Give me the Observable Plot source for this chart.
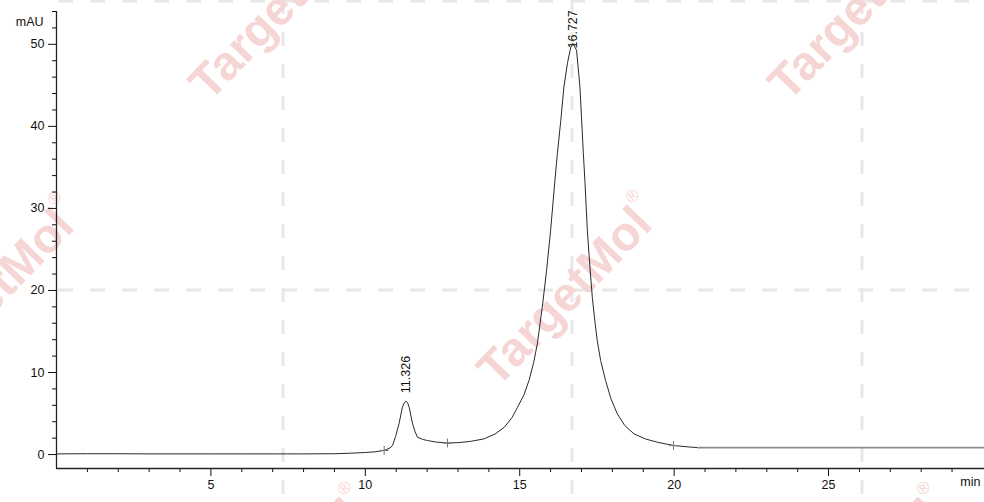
<!DOCTYPE html>
<html><head><meta charset="utf-8">
<script src="https://cdn.jsdelivr.net/npm/d3@7"></script>
<script src="https://cdn.jsdelivr.net/npm/@observablehq/plot@0.6"></script>
<style>
body{margin:0;background:#fff;}
#wrap{position:relative;width:984px;height:502px;overflow:hidden;background:#fff;}
#wm{position:absolute;left:0;top:0;}
#chart{position:absolute;left:0;top:0;}
</style></head><body>
<div id="wrap"><svg id="wm" width="984" height="502"></svg><div id="chart"></div></div>
<script>
// Chromatogram samples (time in min, signal in mAU)
const times = [0, 1, 2, 3, 4, 5, 6, 7, 8, 9, 9.5, 10, 10.3, 10.61, 10.8, 10.88, 10.98, 11.09, 11.2, 11.27, 11.326, 11.37, 11.42, 11.53, 11.61, 11.69, 11.85, 12.01, 12.3, 12.66, 13.0, 13.4, 13.84, 14.2, 14.5, 14.75, 14.93, 15.14, 15.3, 15.45, 15.57, 15.73, 15.87, 16.0, 16.14, 16.22, 16.33, 16.43, 16.55, 16.65, 16.727, 16.84, 16.95, 17.06, 17.11, 17.19, 17.27, 17.35, 17.43, 17.51, 17.62, 17.78, 17.95, 18.16, 18.4, 18.7, 19.08, 19.46, 19.98, 20.53, 20.76, 25, 30.05];
const signal = [0.08, 0.1, 0.1, 0.08, 0.08, 0.08, 0.08, 0.08, 0.08, 0.1, 0.16, 0.25, 0.33, 0.5, 0.8, 1.1, 2.2, 3.74, 5.77, 6.35, 6.5, 6.3, 5.77, 3.74, 2.8, 2.11, 1.85, 1.71, 1.52, 1.4, 1.45, 1.6, 1.91, 2.5, 3.33, 4.5, 5.77, 7.3, 9.02, 11.2, 13.5, 17.96, 22.44, 27.32, 33.41, 36.71, 40.73, 44.79, 47.8, 49.6, 50.1, 49.27, 44.79, 36.71, 33.41, 27.32, 23.0, 19.18, 16.34, 13.9, 11.46, 9.02, 6.83, 4.96, 3.54, 2.52, 1.89, 1.5, 1.1, 0.91, 0.85, 0.85, 0.85];
const tailStart = 20.76;

// Peaks
const peakTimes = [11.326, 16.727];
const peakHeights = [6.5, 50.1];
const peakLabels = ["11.326", "16.727"];

// Integration markers
const markerTimes = [10.61, 12.66, 19.98];
const markerValues = [0.5, 1.4, 1.1];

// Axis ticks
const xDomain = [0, 30.05];
const yDomain = [-1.7, 54];
const xMajor = [5, 10, 15, 20, 25];
const xMinor = [1, 2, 3, 4, 6, 7, 8, 9, 11, 12, 13, 14, 16, 17, 18, 19, 21, 22, 23, 24, 26, 27, 28, 29];
const yMajor = [0, 10, 20, 30, 40, 50];
const yMinor = [2, 4, 6, 8, 12, 14, 16, 18, 22, 24, 26, 28, 32, 34, 36, 38, 42, 44, 46, 48, 52, 54];
const xUnit = "min";
const yUnit = "mAU";

// Watermark (decorative background, pixel positioned)
const wm = d3.select("#wm");
const dashColor = "#e8e8e8";
[283, 572, 862].forEach(x => wm.append("line").attr("x1", x).attr("x2", x).attr("y1", 0).attr("y2", 502)
  .attr("stroke", dashColor).attr("stroke-width", 3).attr("stroke-dasharray", "14,18"));
[1, 290].forEach(y => wm.append("line").attr("x1", 58).attr("x2", 984).attr("y1", y).attr("y2", y)
  .attr("stroke", dashColor).attr("stroke-width", 3).attr("stroke-dasharray", "15,17"));
const wmCenters = [[280, 5], [859, 5], [-10, 293], [568, 291], [280, 583], [859, 583]];
wmCenters.forEach(([cx, cy]) => {
  const g = wm.append("g").attr("transform", `translate(${cx},${cy}) rotate(-46)`);
  const t = g.append("text").attr("text-anchor", "middle").attr("dominant-baseline", "central")
    .attr("font-family", "Liberation Sans, Arial, sans-serif").attr("font-weight", "bold")
    .attr("font-size", 48).attr("fill", "#f6d5d5");
  t.append("tspan").text("TargetMol");
  t.append("tspan").attr("font-size", 17).attr("font-weight", "normal").attr("dy", -20).text("®");
});

const data = times.map((t, i) => ({t, v: signal[i]}));
const peaks = peakTimes.map((t, i) => ({t, v: peakHeights[i], label: peakLabels[i]}));
const markers = markerTimes.map((t, i) => ({t, v: markerValues[i]}));

const chart = Plot.plot({
  width: 984, height: 502,
  marginLeft: 56, marginRight: 0, marginTop: 11, marginBottom: 34,
  style: {background: "transparent", fontFamily: "Liberation Sans, Arial, sans-serif", fontSize: "12.5px", color: "#111"},
  x: {domain: xDomain, label: null},
  y: {domain: yDomain, label: null},
  marks: [
    Plot.axisX({ticks: xMajor, tickSize: 8, tickPadding: 4, label: null, fontSize: 12.5}),
    Plot.axisX({ticks: xMinor, tickSize: 4, tickFormat: () => "", label: null}),
    Plot.axisY({ticks: yMajor, tickSize: 8, tickPadding: 4, label: null, fontSize: 12.5}),
    Plot.axisY({ticks: yMinor, tickSize: 4, tickFormat: () => "", label: null}),
    Plot.ruleX([xDomain[0]], {stroke: "#222", strokeWidth: 1.3}),
    Plot.ruleY([yDomain[0]], {stroke: "#222", strokeWidth: 1.3}),
    Plot.line(data.filter(d => d.t <= tailStart), {x: "t", y: "v", stroke: "#2a2a2a", strokeWidth: 1}),
    Plot.line(data.filter(d => d.t >= tailStart), {x: "t", y: "v", stroke: "#8c8c8c", strokeWidth: 1.6}),
    Plot.dot(markers, {x: "t", y: "v", symbol: "plus", r: 3, stroke: "#777", strokeWidth: 1}),
    Plot.text(peaks.slice(0, 1), {x: "t", y: "v", text: "label", rotate: -90, textAnchor: "start", dy: -8, fontSize: 12.5, fill: "#111"}),
    Plot.text(peaks.slice(1), {x: "t", y: "v", text: "label", rotate: -90, textAnchor: "start", dy: 5, fontSize: 12.5, fill: "#111"}),
    Plot.text([yUnit], {frameAnchor: "top-left", text: d => d, textAnchor: "end", dx: -13, dy: 6, fontSize: 12.5, fill: "#111"}),
    Plot.text([xUnit], {frameAnchor: "bottom-right", text: d => d, textAnchor: "end", dx: -4, dy: 17, fontSize: 12.5, fill: "#111"})
  ]
});
document.getElementById("chart").appendChild(chart);
</script>
</body></html>
